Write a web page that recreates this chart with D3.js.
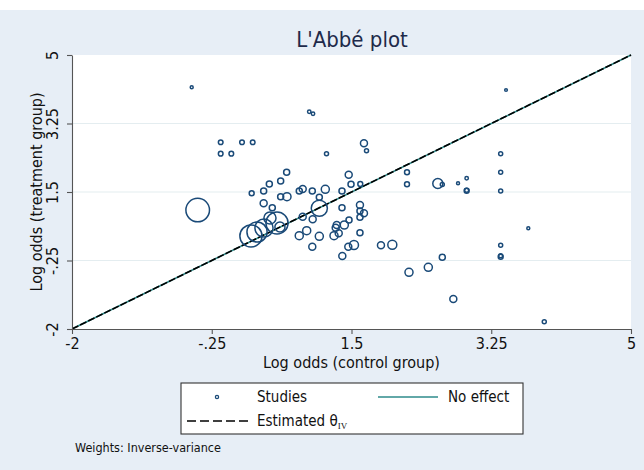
<!DOCTYPE html>
<html><head><meta charset="utf-8">
<script src="https://cdn.jsdelivr.net/npm/d3@7"></script>
<style>
html,body{margin:0;padding:0;background:#fff;}
text{font-family:"DejaVu Sans Condensed","DejaVu Sans",sans-serif;font-stretch:condensed;}
</style></head>
<body><svg id="c" width="644" height="470"></svg>
<script>
// Study log odds: control group (x) and treatment group (y), and inverse-variance weights
const controlLogOdds = [-0.501,-0.138,0.129,0.263,-0.138,-0.005,0.971,1.018,1.656,1.688,1.187,0.688,1.465,2.195,2.195,3.368,3.368,3.368,3.435,2.581,2.637,2.834,2.942,2.942,2.942,0.471,0.613,0.400,0.250,0.846,0.889,1.009,1.172,1.381,1.494,1.610,0.613,0.692,1.097,1.097,-0.426,0.400,0.508,1.381,1.606,1.606,1.656,1.606,0.889,1.014,1.469,1.315,1.410,1.302,0.939,0.846,1.097,1.281,1.340,1.606,1.009,1.460,1.531,1.385,1.869,2.011,2.637,2.462,2.220,2.775,3.914,3.714,3.368,3.368,3.368,0.241,0.317,0.404,0.567,0.479,0.604];
const treatmentLogOdds = [4.175,2.770,2.770,2.770,2.479,2.479,3.552,3.501,2.744,2.555,2.479,2.004,1.942,2.006,1.697,2.479,2.004,1.526,4.106,1.717,1.692,1.725,1.850,1.531,1.546,1.705,1.781,1.526,1.467,1.526,1.577,1.526,1.569,1.526,1.697,1.705,1.380,1.380,1.365,1.084,1.040,1.212,1.099,1.099,1.168,1.015,0.956,0.854,0.869,0.803,0.785,0.657,0.657,0.588,0.511,0.384,0.368,0.384,0.445,0.460,0.103,0.103,0.146,-0.135,0.138,0.154,-0.168,-0.424,-0.551,-1.234,-1.813,0.573,0.138,-0.153,-0.127,0.376,0.478,0.580,0.708,0.836,0.606];
const weights = [2.2,5.3,5.3,5.3,5.3,5.3,2.9,2.9,12,4,4,9,12,6,6,4,4,4,1.8,25,4,2.2,2.9,6,4,9,9,9,6,9,12,9,16,9,9,6,9,16,9,64,137,12,9,9,12,9,12,9,12,12,9,12,16,12,16,16,16,16,12,9,12,12,20,12,12,20,9,16,16,12,4,2.2,4,6,4,121,100,81,121,36,25];
const tickValues = [-2,-0.25,1.5,3.25,5];
const tickLabels = ["-2","-.25","1.5","3.25","5"];
const thetaIV = 0.0;
const legendLabels = ["Studies","No effect","Estimated θ","IV"];
const titleText = "L'Abbé plot";
const xTitle = "Log odds (control group)";
const yTitle = "Log odds (treatment group)";
const noteText = "Weights: Inverse-variance";

const svg = d3.select("#c");
const W=644,H=470;
const bg="#e7eef6", navy="#1a4a78", teal="#2e8b8b";
svg.append("rect").attr("width",W).attr("height",H).attr("fill","#fff");
svg.append("rect").attr("x",0).attr("y",10).attr("width",W).attr("height",H-10).attr("fill",bg);

const L=72,R=631,T=55,B=329;
const x=d3.scaleLinear().domain([-2,5]).range([L,R]);
const y=d3.scaleLinear().domain([-2,5]).range([B,T]);
const r=d3.scaleSqrt().domain([0,d3.max(weights)]).range([0,11.8]);

svg.append("rect").attr("x",L).attr("y",T).attr("width",R-L).attr("height",B-T).attr("fill","#fff");

// grid
svg.append("g").selectAll("line").data(tickValues.slice(1,4)).join("line")
  .attr("x1",L).attr("x2",R).attr("y1",d=>y(d)).attr("y2",d=>y(d))
  .attr("stroke","#e4edf0").attr("stroke-width",1.2);

const clip=svg.append("clipPath").attr("id","pc").append("rect").attr("x",L).attr("y",T-2).attr("width",R-L+2).attr("height",B-T+2);
const plot=svg.append("g").attr("clip-path","url(#pc)");

// No effect line and estimated line
const ext=[-2,5];
plot.append("line").attr("x1",x(ext[0])).attr("y1",y(ext[0])).attr("x2",x(ext[1])).attr("y2",y(ext[1]))
  .attr("stroke",teal).attr("stroke-width",1.6);
plot.append("line").attr("x1",x(ext[0])).attr("y1",y(ext[0]+thetaIV)).attr("x2",x(ext[1])).attr("y2",y(ext[1]+thetaIV))
  .attr("stroke","#000").attr("stroke-width",1.6).attr("stroke-dasharray","7,2");

// points
const pts=controlLogOdds.map((c,i)=>({c,t:treatmentLogOdds[i],w:weights[i]}));
plot.append("g").selectAll("circle").data(pts).join("circle")
  .attr("cx",d=>x(d.c)).attr("cy",d=>y(d.t)).attr("r",d=>r(d.w))
  .attr("fill","none").attr("stroke",navy).attr("stroke-width",1.5);

// axes
const xa=svg.append("g").attr("transform",`translate(0,${B})`)
  .call(d3.axisBottom(x).tickValues(tickValues).tickFormat((d,i)=>tickLabels[i]).tickSize(5).tickSizeOuter(0));
const ya=svg.append("g").attr("transform",`translate(${L},0)`)
  .call(d3.axisLeft(y).tickValues(tickValues).tickFormat((d,i)=>tickLabels[i]).tickSize(5).tickSizeOuter(0));
[xa,ya].forEach(a=>{a.select(".domain").attr("stroke","#555").attr("stroke-width",1.1);
  a.selectAll(".tick line").attr("stroke","#555").attr("stroke-width",1.1);
  a.selectAll("text").attr("fill","#111").style("font-size","16px");});
xa.selectAll("text").attr("dy","0.75em").attr("y",8);
ya.selectAll("text").attr("x",0).attr("dy",0).attr("text-anchor","middle")
  .attr("transform","translate(-14,0) rotate(-90)");

// titles
svg.append("text").attr("x",352).attr("y",47).attr("text-anchor","middle").attr("fill","#1e2a4a").style("font-size","22px").text(titleText);
svg.append("text").attr("x",(L+R)/2).attr("y",368).attr("text-anchor","middle").attr("fill","#111").style("font-size","16px").text(xTitle);
svg.append("text").attr("transform",`translate(42,${(T+B)/2}) rotate(-90)`).attr("text-anchor","middle").attr("fill","#111").style("font-size","16px").text(yTitle);

// legend
const lg=svg.append("g");
lg.append("rect").attr("x",181).attr("y",383).attr("width",342).attr("height",51).attr("fill","#fff").attr("stroke","#333").attr("stroke-width",1.1);
lg.append("circle").attr("cx",217).attr("cy",397).attr("r",1.6).attr("fill","none").attr("stroke",navy).attr("stroke-width",1.3);
lg.append("text").attr("x",257).attr("y",402).attr("fill","#111").style("font-size","15px").text(legendLabels[0]);
lg.append("line").attr("x1",378).attr("x2",438).attr("y1",397).attr("y2",397).attr("stroke",teal).attr("stroke-width",1.6);
lg.append("text").attr("x",448).attr("y",402).attr("fill","#111").style("font-size","15px").text(legendLabels[1]);
lg.append("line").attr("x1",187).attr("x2",248).attr("y1",421).attr("y2",421).attr("stroke","#000").attr("stroke-width",1.6).attr("stroke-dasharray","9,4");
const et=lg.append("text").attr("x",257).attr("y",426).attr("fill","#111").style("font-size","15px");
et.append("tspan").text(legendLabels[2]);
et.append("tspan").attr("dy",3).style("font-size","9px").style("font-family","Liberation Serif, serif").text(legendLabels[3]);

svg.append("text").attr("x",75).attr("y",452).attr("fill","#111").style("font-size","12.5px").text(noteText);
</script></body></html>
